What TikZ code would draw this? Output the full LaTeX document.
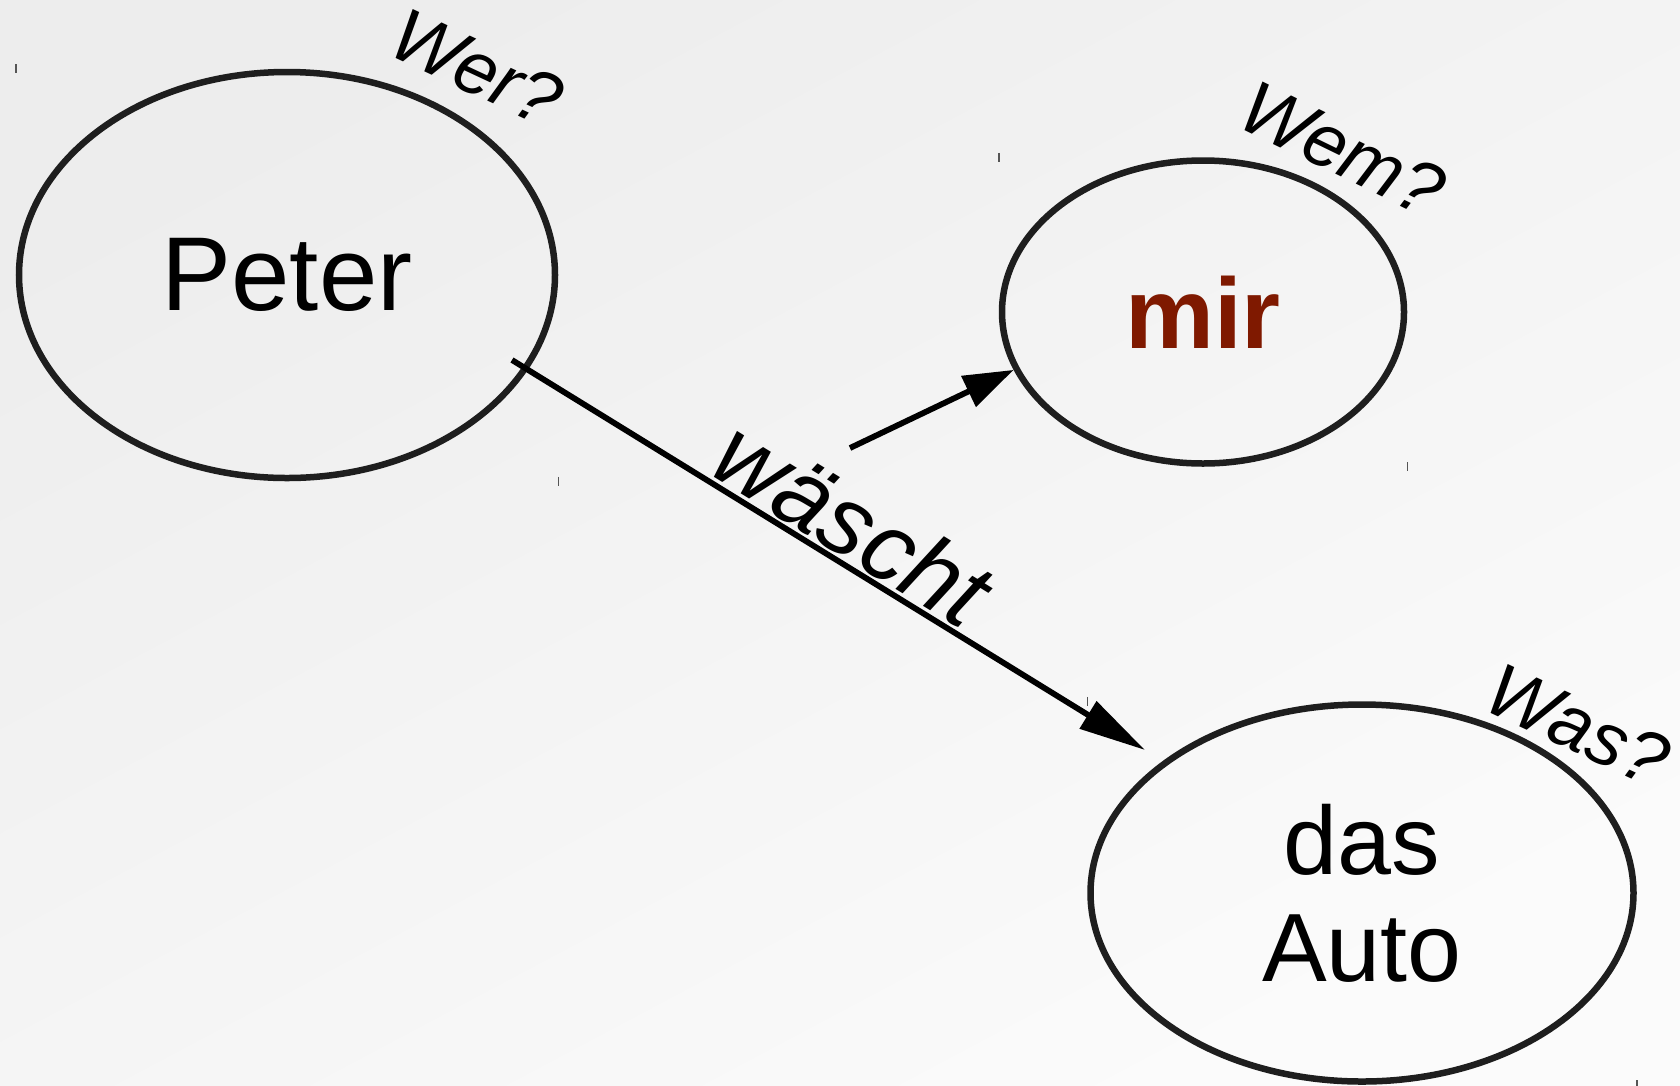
\documentclass[tikz,border=0pt]{standalone}
\usepackage{fontspec}
\setmainfont{Liberation Sans}
\usetikzlibrary{arrows.meta,shapes.geometric}
\definecolor{bgA}{RGB}{237,237,237}
\definecolor{bgB}{RGB}{251,251,251}
\definecolor{mirred}{RGB}{127,25,0}
\definecolor{edgec}{RGB}{30,30,30}
\definecolor{tickc}{RGB}{85,85,85}
\begin{document}
\begin{tikzpicture}[x=1pt,y=1pt,
  ell/.style={ellipse, draw=edgec, line width=6.5pt, inner sep=0pt},
  ask/.style={font=\fontsize{75}{82}\selectfont\itshape, inner sep=0pt},
  conn/.style={line width=5.8pt, draw=black},
  tickmark/.style={draw=tickc, line width=1.5pt}
]
\shade[top color=bgA, bottom color=bgB, shading angle=28] (0,0) rectangle (1680,-1085);
\useasboundingbox (0,0) rectangle (1680,-1085);

\node[ell, minimum width=536pt, minimum height=406pt,
      font=\fontsize{105}{115}\selectfont] (peter) at (287,-275) {Peter};
\node[ell, minimum width=402pt, minimum height=303pt,
      font=\fontsize{100}{110}\selectfont\bfseries, text=mirred] (mir) at (1203,-312) {mir};
\node[ell, minimum width=543pt, minimum height=377pt, align=center,
      font=\fontsize{97}{107}\selectfont] (auto) at (1362,-893) {das\\Auto};

\foreach \n in {peter,mir,auto}{
  \draw[tickmark] (\n.west |- \n.north) ++(0,4.5) -- ++(0,-9);
  \draw[tickmark] (\n.east |- \n.south) ++(0,4.5) -- ++(0,-9);
}

\node[ask, rotate=-25] (wer) at (477,-68) {Wer?};
\node[ask, rotate=-26] (wem) at (1343,-149) {Wem?};
\node[ask, rotate=-25] (was) at (1578,-725) {Was?};

\coordinate (wfrom) at (512,-360);
\coordinate (wto) at (1145,-750);
\draw[conn, -{Triangle[length=67pt,width=31pt]}] (wfrom) -- (wto)
  node[pos=0.505, sloped, above=2pt, inner sep=0pt,
       font=\fontsize{97}{100}\selectfont\itshape] (verb) {wäscht};

\coordinate (mfrom) at (850,-448);
\draw[conn, -{Triangle[length=50pt,width=33pt]}] (mfrom) -- (mir.197);
\end{tikzpicture}
\end{document}
